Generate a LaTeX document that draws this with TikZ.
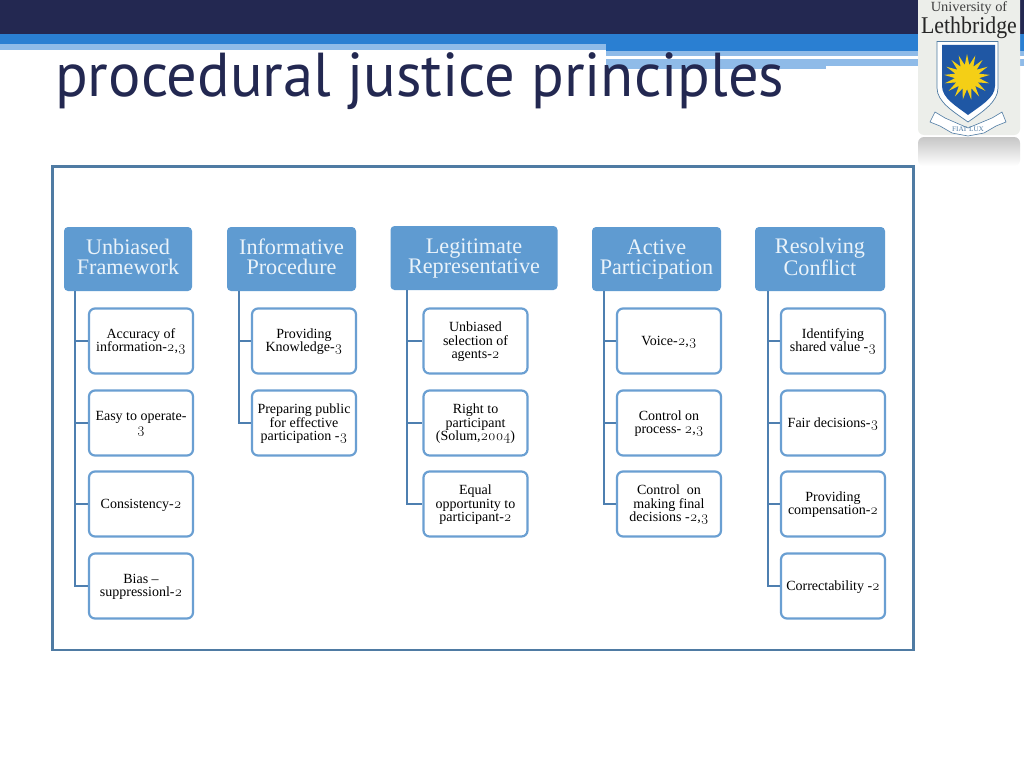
\documentclass[tikz,border=0pt]{standalone}
\usepackage{fontspec}
\setmainfont{Liberation Serif}
\newfontfamily\titlefont[FakeStretch=0.977]{PT Sans}
\newfontfamily\logofont[FakeStretch=1.03]{Liberation Serif}
\newfontfamily\lethfont[FakeStretch=0.91]{Liberation Serif}
\newfontfamily\numfont[Numbers=OldStyle]{Latin Modern Roman}
\usetikzlibrary{shapes.geometric,shadings}
\definecolor{navy}{HTML}{232851}
\definecolor{bandblue}{HTML}{2A7FD2}
\definecolor{paleband}{HTML}{8FBBE8}
\definecolor{framecol}{HTML}{4F7BA3}
\definecolor{headfill}{HTML}{5F9BD1}
\definecolor{headtext}{HTML}{EAF3FA}
\definecolor{boxline}{HTML}{6A9FD2}
\definecolor{treeline}{HTML}{4E7FB0}
\definecolor{logobg}{HTML}{ECEEEA}
\definecolor{shieldblue}{HTML}{1F57A4}
\definecolor{sunyellow}{HTML}{F4CF16}
\tikzset{
 x=1pt,y=-1pt,
 headbox/.style={rectangle,rounded corners=4pt,fill=headfill,inner sep=0pt,align=center,text=headtext,font=\fontsize{22.2}{20}\selectfont},
 leafbox/.style={rectangle,rounded corners=6pt,draw=boxline,line width=2.2pt,fill=white,minimum width=104pt,minimum height=65pt,inner sep=0pt,align=center,text=black,font=\fontsize{14}{13.3}\selectfont},
 tree/.style={draw=treeline,line width=2.4pt,line cap=butt},
}
\newcommand{\on}[1]{{\numfont\fontsize{14.5}{13.3}\selectfont #1}}
\newcommand{\ft}{\rule{0pt}{12pt}}
\newcommand{\lt}{\rule[-4pt]{0pt}{4pt}}
\newcommand{\hft}{\rule{0pt}{16pt}}
\newcommand{\hlt}{\rule[-5pt]{0pt}{5pt}}
\begin{document}
\begin{tikzpicture}
\useasboundingbox (0,0) rectangle (1024,768);
\fill[white] (0,0) rectangle (1024,768);
% banner
\fill[navy] (0,0) rectangle (1024,34);
\fill[bandblue] (0,34) rectangle (1024,44);
\fill[paleband] (0,44) rectangle (606,50);
\fill[bandblue] (606,44) rectangle (1024,51);
\fill[paleband] (606,51) rectangle (1024,56);
\fill[paleband] (606,59) rectangle (826,69);
\fill[paleband] (826,59) rectangle (1024,66);
% title
\node[anchor=base west,inner sep=0pt,text=navy,font=\titlefont\fontsize{62}{62}\selectfont] (title) at (55,96.5) {procedural justice principles};
% frame
\draw[framecol,line width=2.2pt,fill=white] (52.5,166.5) rectangle (913.5,650);
% logo
\fill[logobg,rounded corners=6pt] (918,-6) rectangle (1020,135);
\shade[top color=gray!45,bottom color=white,rounded corners=6pt] (918,137) rectangle (1020,166);
\node[inner sep=0pt,font=\logofont\fontsize{14}{14}\selectfont,text=black!75] (logoa) at (969,8) {University of};
\node[inner sep=0pt,font=\lethfont\fontsize{24}{24}\selectfont,text=black!85] (logob) at (969,27.5) {Lethbridge};
\draw[framecol,line width=.7pt,fill=white] (937,41.5) -- (998,41.5) -- (998,88) .. controls (998,102) and (982,112) .. (968,122) .. controls (954,112) and (937,102) .. (937,88) -- cycle;
\fill[shieldblue] (942,45) -- (995,45) -- (995,86) .. controls (995,98) and (980,106) .. (968,115) .. controls (956,106) and (942,98) .. (942,86) -- cycle;
\node[star,star points=17,star point ratio=1.9,minimum size=46pt,inner sep=0pt,fill=sunyellow] (sun) at (967,77) {};
\draw[framecol,line width=.6pt,fill=white] (935,112) -- (945,118) -- (968,128) -- (992,118) -- (1002,112) -- (1006,122) -- (996,126) -- (984,133) -- (968,136) -- (952,133) -- (940,126) -- (930,122) -- cycle;
\node[inner sep=0pt,font=\logofont\fontsize{7}{7}\selectfont,text=framecol] (lux) at (968,129) {FIAT LUX};
% headers
\node[headbox,minimum width=128pt,minimum height=64pt] (h1) at (128,259) {\hft Unbiased\\\hlt Framework};
\node[headbox,minimum width=129pt,minimum height=64pt] (h2) at (291.5,259) {\hft Informative\\\hlt Procedure};
\node[headbox,minimum width=167pt,minimum height=64pt] (h3) at (474,258) {\hft Legitimate\\\hlt Representative};
\node[headbox,minimum width=129pt,minimum height=64pt] (h4) at (656.5,259) {\hft Active\\\hlt Participation};
\node[headbox,minimum width=130pt,minimum height=64pt] (h5) at (820,259) {\hft Resolving\\\hlt Conflict};
% column 1
\node[leafbox] (a1) at (141,341) {\ft Accuracy of\\\lt information-\on{2},\on{3}};
\node[leafbox] (a2) at (141,423) {\ft Easy to operate-\\\lt\on{3}};
\node[leafbox] (a3) at (141,504) {\ft\lt Consistency-\on{2}};
\node[leafbox] (a4) at (141,586) {\ft Bias --\\\lt suppressionl-\on{2}};
% column 2
\node[leafbox] (b1) at (304,341) {\ft Providing\\\lt Knowledge-\on{3}};
\node[leafbox] (b2) at (304,423) {\ft Preparing public\\for effective\\\lt participation -\on{3}};
% column 3
\node[leafbox] (c1) at (475.5,341) {\ft Unbiased\\selection of\\\lt agents-\on{2}};
\node[leafbox] (c2) at (475.5,423) {\ft Right to\\participant\\\lt (Solum,\on{2004})};
\node[leafbox] (c3) at (475.5,504) {\ft Equal\\opportunity to\\\lt participant-\on{2}};
% column 4
\node[leafbox] (d1) at (669,341) {\ft\lt Voice-\on{2},\on{3}};
\node[leafbox] (d2) at (669,423) {\ft Control on\\\lt process- \on{2},\on{3}};
\node[leafbox] (d3) at (669,504) {\ft Control~ on\\making final\\\lt decisions -\on{2},\on{3}};
% column 5
\node[leafbox] (e1) at (833,341) {\ft Identifying\\\lt shared value -\on{3}};
\node[leafbox] (e2) at (833,423) {\ft\lt Fair decisions-\on{3}};
\node[leafbox] (e3) at (833,504) {\ft Providing\\\lt compensation-\on{2}};
\node[leafbox] (e4) at (833,586) {\ft\lt Correctability -\on{2}};
% connectors
\foreach \h/\off/\last in {h1/75/a4,h2/239/b2,h3/407/c3,h4/604/d3,h5/768/e4}{
  \draw[tree] (\off,0 |- \h.south) -- (\off,0 |- \last.west) -- (\last.west);
}
\foreach \off/\leaf in {75/a1,75/a2,75/a3,239/b1,407/c1,407/c2,604/d1,604/d2,768/e1,768/e2,768/e3}{
  \draw[tree] (\off,0 |- \leaf.west) -- (\leaf.west);
}
\end{tikzpicture}
\end{document}
